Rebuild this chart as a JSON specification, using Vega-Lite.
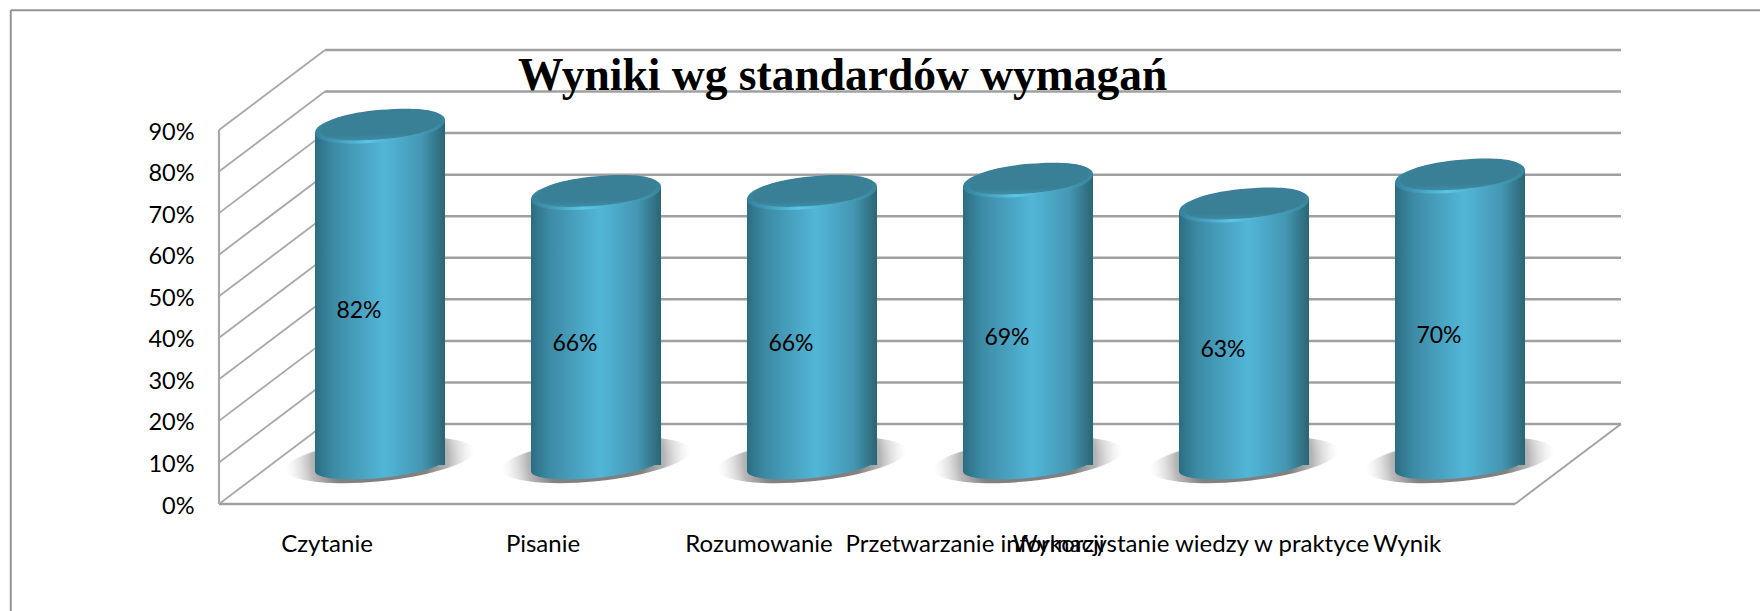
{"$schema":"https://vega.github.io/schema/vega-lite/v6.json","width":1296,"height":374,"autosize":{"type":"none"},"padding":{"left":219,"top":130,"right":245,"bottom":107},"background":"white","config":{"view":{"stroke":null}},
"title":{"text":"Wyniki wg standardów wymagań","font":"Liberation Serif","fontSize":45.5,"fontWeight":"bold","color":"#000000","anchor":"start","frame":"group","dx":299,"offset":-90},
"datasets":{"wyniki":[{"standard":"Czytanie","wynik":0.82},{"standard":"Pisanie","wynik":0.66},{"standard":"Rozumowanie","wynik":0.66},{"standard":"Przetwarzanie informacji","wynik":0.69},{"standard":"Wykorzystanie wiedzy w praktyce","wynik":0.63},{"standard":"Wynik","wynik":0.70}],
"skala":[{"p":0},{"p":0.1},{"p":0.2},{"p":0.3},{"p":0.4},{"p":0.5},{"p":0.6},{"p":0.7},{"p":0.8},{"p":0.9}]},
"resolve":{"scale":{"x":"independent","y":"independent"}},
"layer":[
{"data":{"name":"skala"},"mark":{"type":"rule","stroke":"#a0a0a0","strokeWidth":2.5,"xOffset":106,"x2Offset":106,"yOffset":-80},
"encoding":{"x":{"datum":0,"type":"quantitative","scale":{"domain":[0,6]},"axis":null},"x2":{"datum":6},"y":{"field":"p","type":"quantitative","scale":{"domain":[0,0.9]},"axis":{"values":[0,0.1,0.2,0.3,0.4,0.5,0.6,0.7,0.8,0.9],"format":".0%","title":null,"domain":false,"ticks":false,"grid":false,"labelFont":"Lato","labelFontSize":23.5,"labelColor":"#000000","labelPadding":25,"labelOffset":2}}}},
{"data":{"name":"skala"},"mark":{"type":"rule","stroke":"#a8a8a8","strokeWidth":1.8,"x2Offset":106,"y2Offset":-80},
"encoding":{"x":{"datum":0,"type":"quantitative","scale":{"domain":[0,6]},"axis":null},"x2":{"datum":0},"y":{"field":"p","type":"quantitative","scale":{"domain":[0,0.9]},"axis":null},"y2":{"field":"p"}}},
{"mark":{"type":"rule","stroke":"#a0a0a0","strokeWidth":2.5},"data":{"values":[{"a":1}]},
"encoding":{"x":{"datum":0,"type":"quantitative","scale":{"domain":[0,6]},"axis":null},"x2":{"datum":6},"y":{"datum":0,"type":"quantitative","scale":{"domain":[0,0.9]},"axis":null}}},
{"mark":{"type":"rule","stroke":"#a8a8a8","strokeWidth":2.2},"data":{"values":[{"a":1}]},
"encoding":{"x":{"datum":0,"type":"quantitative","scale":{"domain":[0,6]},"axis":null},"y":{"datum":0,"type":"quantitative","scale":{"domain":[0,0.9]},"axis":null},"y2":{"datum":0.9}}},
{"mark":{"type":"rule","stroke":"#a0a0a0","strokeWidth":1.8,"x2Offset":106,"y2Offset":-80},"data":{"values":[{"a":1}]},
"encoding":{"x":{"datum":6,"type":"quantitative","scale":{"domain":[0,6]},"axis":null},"x2":{"datum":6},"y":{"datum":0,"type":"quantitative","scale":{"domain":[0,0.9]},"axis":null},"y2":{"datum":0}}},
{"mark":{"type":"rule","stroke":"#949494","strokeWidth":2},"data":{"values":[{"a":1}]},
"encoding":{"x":{"datum":-0.964,"type":"quantitative","scale":{"domain":[0,6]},"axis":null},"x2":{"datum":7.14},"y":{"datum":1.188,"type":"quantitative","scale":{"domain":[0,0.9]},"axis":null}}},
{"mark":{"type":"rule","stroke":"#949494","strokeWidth":2},"data":{"values":[{"a":1}]},
"encoding":{"x":{"datum":-0.964,"type":"quantitative","scale":{"domain":[0,6]},"axis":null},"y":{"datum":1.188,"type":"quantitative","scale":{"domain":[0,0.9]},"axis":null},"y2":{"datum":-0.26}}},
{"data":{"name":"wyniki"},"mark":{"type":"point","filled":true,"opacity":1,"strokeWidth":0,"xOffset":53,"yOffset":-44,"size":36000,"shape":"M1,-0.097 C1,0.02 0.552,0.17 0,0.225 C-0.552,0.28 -1,0.214 -1,0.097 C-1,-0.02 -0.552,-0.17 0,-0.225 C0.552,-0.28 1,-0.214 1,-0.097 Z","fill":{"gradient":"radial","x1":0.5,"y1":0.5,"r1":0,"x2":0.5,"y2":0.5,"r2":0.5,"stops":[{"offset":0,"color":"rgba(125,125,125,1)"},{"offset":0.5,"color":"rgba(130,130,130,1)"},{"offset":0.72,"color":"rgba(150,150,150,0.7)"},{"offset":0.92,"color":"rgba(200,200,200,0.2)"},{"offset":1,"color":"rgba(220,220,220,0)"}]}},
"encoding":{"x":{"field":"standard","type":"nominal","sort":null,"scale":{"type":"band","paddingInner":0,"paddingOuter":0},"axis":{"title":null,"domain":false,"ticks":false,"labelAngle":0,"labelFont":"Lato","labelFontSize":24,"labelColor":"#000000","labelPadding":28,"labelOverlap":false,"labelLimit":1000}},"y":{"datum":0,"type":"quantitative","scale":{"domain":[0,0.9]},"axis":null}}},
{"data":{"name":"wyniki"},"mark":{"type":"bar","width":130,"xOffset":53,"yOffset":-30,"y2Offset":-39,"fill":{"gradient":"linear","x1":0,"y1":0,"x2":1,"y2":0,"stops":[{"offset":0,"color":"#2b6d82"},{"offset":0.14,"color":"#3d8aa5"},{"offset":0.53,"color":"#52b6d7"},{"offset":0.82,"color":"#4597b3"},{"offset":1,"color":"#2a6575"}]}},
"encoding":{"x":{"field":"standard","type":"nominal","sort":null,"scale":{"type":"band","paddingInner":0,"paddingOuter":0},"axis":null},"y":{"field":"wynik","type":"quantitative","scale":{"domain":[0,0.9]},"axis":null},"y2":{"datum":0}}},
{"data":{"name":"wyniki"},"mark":{"type":"point","filled":true,"opacity":1,"strokeWidth":0,"xOffset":53,"yOffset":-39,"size":16900,"shape":"M1,-0.3 L1,-0.097 C1,0.013 0.552,0.146 0,0.2 C-0.552,0.254 -1,0.207 -1,0.097 L-1,-0.3 Z","fill":{"gradient":"linear","x1":0,"y1":0,"x2":1,"y2":0,"stops":[{"offset":0,"color":"#2b6d82"},{"offset":0.14,"color":"#3d8aa5"},{"offset":0.53,"color":"#52b6d7"},{"offset":0.82,"color":"#4597b3"},{"offset":1,"color":"#2a6575"}]}},
"encoding":{"x":{"field":"standard","type":"nominal","sort":null,"scale":{"type":"band","paddingInner":0,"paddingOuter":0},"axis":null},"y":{"datum":0,"type":"quantitative","scale":{"domain":[0,0.9]},"axis":null}}},
{"data":{"name":"wyniki"},"mark":{"type":"point","filled":true,"opacity":1,"strokeWidth":0,"xOffset":53,"yOffset":-36.7,"size":16900,"shape":"M-1,0.097 L-1,0.3 L1,0.3 L1,-0.097 Z","fill":{"gradient":"linear","x1":0,"y1":0,"x2":1,"y2":0,"stops":[{"offset":0,"color":"#2b6d82"},{"offset":0.14,"color":"#3d8aa5"},{"offset":0.53,"color":"#52b6d7"},{"offset":0.82,"color":"#4597b3"},{"offset":1,"color":"#2a6575"}]}},
"encoding":{"x":{"field":"standard","type":"nominal","sort":null,"scale":{"type":"band","paddingInner":0,"paddingOuter":0},"axis":null},"y":{"field":"wynik","type":"quantitative","scale":{"domain":[0,0.9]},"axis":null}}},
{"data":{"name":"wyniki"},"mark":{"type":"point","filled":true,"opacity":1,"strokeWidth":0,"xOffset":53,"yOffset":-36.7,"size":16900,"shape":"M1,-0.097 C1,0.06 0.58,0.195 0,0.243 C-0.58,0.29 -1,0.25 -1,0.097 C-1,-0.06 -0.58,-0.195 0,-0.243 C0.58,-0.29 1,-0.25 1,-0.097 Z","fill":{"gradient":"linear","x1":0,"y1":0,"x2":1,"y2":0,"stops":[{"offset":0,"color":"#338099"},{"offset":0.4,"color":"#5cc6e6"},{"offset":1,"color":"#37859d"}]}},
"encoding":{"x":{"field":"standard","type":"nominal","sort":null,"scale":{"type":"band","paddingInner":0,"paddingOuter":0},"axis":null},"y":{"field":"wynik","type":"quantitative","scale":{"domain":[0,0.9]},"axis":null}}},
{"data":{"name":"wyniki"},"mark":{"type":"point","filled":true,"opacity":1,"strokeWidth":0,"xOffset":54,"yOffset":-38.7,"size":14800,"shape":"M1,-0.097 C1,0.06 0.58,0.195 0,0.243 C-0.58,0.29 -1,0.25 -1,0.097 C-1,-0.06 -0.58,-0.195 0,-0.243 C0.58,-0.29 1,-0.25 1,-0.097 Z","fill":{"gradient":"linear","x1":0.45,"y1":0,"x2":0.55,"y2":1,"stops":[{"offset":0,"color":"#3a7f97"},{"offset":0.8,"color":"#398096"},{"offset":1,"color":"#3f8ea8"}]}},
"encoding":{"x":{"field":"standard","type":"nominal","sort":null,"scale":{"type":"band","paddingInner":0,"paddingOuter":0},"axis":null},"y":{"field":"wynik","type":"quantitative","scale":{"domain":[0,0.9]},"axis":null}}},
{"data":{"name":"wyniki"},"mark":{"type":"text","font":"Lato","fontSize":23,"color":"#000000","xOffset":32,"yOffset":-23},
"encoding":{"x":{"field":"standard","type":"nominal","sort":null,"scale":{"type":"band","paddingInner":0,"paddingOuter":0},"axis":null},"y":{"field":"wynik","type":"quantitative","scale":{"domain":[0,1.8]},"axis":null},"text":{"field":"wynik","type":"quantitative","format":".0%"}}}
]}
